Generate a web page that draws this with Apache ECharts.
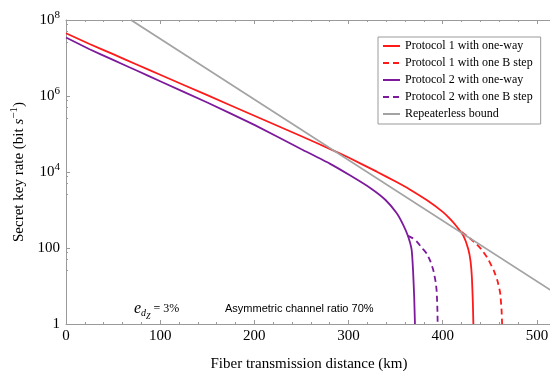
<!DOCTYPE html>
<html>
<head>
<meta charset="utf-8">
<script src="https://cdn.jsdelivr.net/npm/echarts@6/dist/echarts.min.js"></script>
<style>html,body{margin:0;padding:0;background:#fff}#c{width:550px;height:371px}</style>
</head>
<body>
<div id="c"></div>
<script>
// Distances (km) and secret key rates (bit/s)
const redOneWayKm = [0,25,50,75,100,150,200,250,280,300,330,350,365,383,400,408,415,422,427,429.5,431,432,432.5];
const redOneWayRate = [4.47e7,2.34e7,1.26e7,6.76e6,3.63e6,1.05e6,3.02e5,8.7e4,4.07e4,2.4e4,1.02e4,5.6e3,3.47e3,1.82e3,890,575,363,209,95,45,15.8,3.5,1];
const redBStepKm = [420,429,435,441.5,448,454,458,461,462.5,463];
const redBStepRate = [263,178,132,89,52,26,14,6.5,2.2,1];
const purpleOneWayKm = [0,25,50,75,100,150,200,250,280,301,323,339,351,358,363,367,368.5,369.7,370.5];
const purpleOneWayRate = [3.47e7,1.7e7,8.9e6,4.68e6,2.45e6,6.76e5,1.74e5,3.98e4,1.66e4,8.3e3,3.8e3,1.86e3,832,407,209,89,25,5,1];
const purpleBStepKm = [363,368,372,378,383,387,390,392.5,393.6,394.3,394.6];
const purpleBStepRate = [209,182,151,100,71,44,26,12.6,7.1,2.5,1];
const boundKm = [69,516];
const boundRate = [1e8,7.35];
const seriesNames = ['Protocol 1 with one-way','Protocol 1 with one B step','Protocol 2 with one-way','Protocol 2 with one B step','Repeaterless bound'];

function pairs(xs, ys){ return xs.map((x,i)=>[x, ys[i]]); }

const RED = '#ff1a1a', PURPLE = '#7d1a9c', GREY = '#a3a3a3';
const serif = 'Liberation Serif';

const chart = echarts.init(document.getElementById('c'), null, {renderer:'canvas'});
function mk(name, xs, ys, color, dashed){
  return {name, type:'line', data:pairs(xs,ys), symbol:'none', showSymbol:false, smooth:0.15, clip:true,
    lineStyle:{color, width:1.8, type: dashed ? [6,4] : 'solid'}, itemStyle:{color}};
}
const axisGrey = '#9a9a9a';
chart.setOption({
  animation:false,
  backgroundColor:'#fff',
  grid:{left:66, top:20, width:486, height:304, outerBoundsMode:'none', containLabel:false},
  legend:{
    orient:'vertical', left:378, top:37, itemWidth:17, itemHeight:10, itemGap:5,
    padding:[3,8,4,4], borderColor:axisGrey, borderWidth:1, backgroundColor:'#fff',
    itemStyle:{opacity:0},
    textStyle:{fontFamily:serif, fontSize:12, color:'#000'},
    data:seriesNames
  },
  xAxis:[{
    type:'value', min:0, max:516, interval:100,
    axisLine:{lineStyle:{color:axisGrey}},
    axisTick:{inside:true, length:4, lineStyle:{color:axisGrey}},
    minorTick:{show:true, splitNumber:5, length:2, lineStyle:{color:axisGrey}},
    splitLine:{show:false},
    axisLabel:{showMaxLabel:false, color:'#000', fontFamily:serif, fontSize:15, margin:5},
    name:'Fiber transmission distance (km)', nameLocation:'middle', nameGap:33,
    nameTextStyle:{fontFamily:serif, fontSize:15, color:'#000'}
  },{
    type:'value', position:'top', min:0, max:516, interval:100,
    axisLine:{lineStyle:{color:axisGrey}},
    axisTick:{inside:true, length:4, lineStyle:{color:axisGrey}},
    minorTick:{show:true, splitNumber:5, length:2, lineStyle:{color:axisGrey}},
    splitLine:{show:false}, axisLabel:{show:false}
  }],
  yAxis:[{
    type:'log', logBase:10, min:1, max:1e8, interval:2,
    axisLine:{show:true, lineStyle:{color:axisGrey}},
    axisTick:{inside:true, length:4, lineStyle:{color:axisGrey}},
    minorTick:{show:true, splitNumber:4, length:2, lineStyle:{color:axisGrey}},
    splitLine:{show:false},
    axisLabel:{color:'#000', fontFamily:serif, fontSize:15, margin:6,
      formatter:function(v){
        const e = Math.round(Math.log10(v));
        if (e % 2) return '';
        if (e === 0) return '1';
        if (e === 2) return '100';
        return '{b|10}{sup|' + e + '}';
      },
      rich:{b:{fontFamily:serif, fontSize:15, color:'#000', lineHeight:20}, sup:{fontFamily:serif, fontSize:11, color:'#000', verticalAlign:'top', lineHeight:20}}
    },
    name:'{n|Secret key rate (bit }{i|s}{sup|\u22121}{n|)}', nameLocation:'middle', nameGap:30, nameRotate:90,
    nameTextStyle:{fontFamily:serif, fontSize:15, color:'#000',
      rich:{n:{fontFamily:serif, fontSize:15, color:'#000', lineHeight:20},
            i:{fontFamily:serif, fontSize:15, fontStyle:'italic', color:'#000', lineHeight:20},
            sup:{fontFamily:serif, fontSize:11, color:'#000', verticalAlign:'top', lineHeight:20}}}
  }],
  graphic:[
    {type:'text', left:134, top:301, style:{
      text:'{e|e}{d|d}{z|Z}{n|= 3%}',
      rich:{e:{fontFamily:serif, fontStyle:'italic', fontSize:16, fill:'#000', lineHeight:18},
            d:{fontFamily:serif, fontStyle:'italic', fontSize:10, fill:'#000', verticalAlign:'bottom', lineHeight:18},
            z:{fontFamily:serif, fontStyle:'italic', fontSize:8, fill:'#000', verticalAlign:'bottom', lineHeight:18, padding:[0,0,-3,0]},
            n:{fontFamily:serif, fontSize:12, fill:'#000', lineHeight:18, padding:[0,0,0,3]}}
    }},
    {type:'text', left:225, top:303, style:{text:'Asymmetric channel ratio 70%', fontFamily:'Liberation Sans', fontSize:11, fill:'#000'}}
  ],
  series:[
    mk(seriesNames[0], redOneWayKm, redOneWayRate, RED, false),
    mk(seriesNames[1], redBStepKm, redBStepRate, RED, true),
    mk(seriesNames[2], purpleOneWayKm, purpleOneWayRate, PURPLE, false),
    mk(seriesNames[3], purpleBStepKm, purpleBStepRate, PURPLE, true),
    Object.assign(mk(seriesNames[4], boundKm, boundRate, GREY, false), {smooth:false})
  ]
});
</script>
</body>
</html>
